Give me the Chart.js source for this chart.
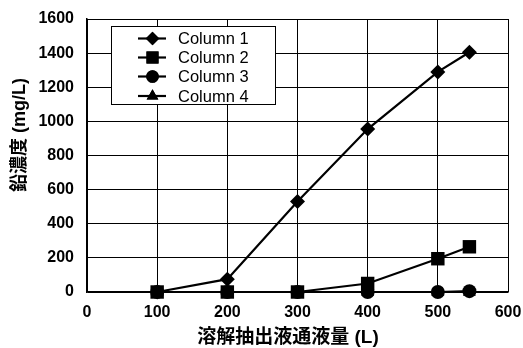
<!DOCTYPE html>
<html>
<head>
<meta charset="utf-8">
<script src="https://cdn.jsdelivr.net/npm/chart.js@4/dist/chart.umd.min.js"></script>
<style>
  html, body { margin: 0; padding: 0; background: #fff; }
  #wrap { width: 523px; height: 348px; position: relative; }
</style>
</head>
<body>
<div id="wrap"><canvas id="c" width="523" height="348"></canvas></div>
<script>
// ---- data ----
const seriesNames = ["Column 1", "Column 2", "Column 3", "Column 4"];
const volumes = [100, 200, 300, 400, 500, 545];
const column1 = [0, 75, 530, 955, 1290, 1405];
const column2 = [0, 0, 0, 50, 195, 265];
const column3 = [0, 0, 0, 0, 0, 5];
const column4 = [0, 0, 0, 0, 0, 0];
const xTicks = [0, 100, 200, 300, 400, 500, 600];
const yTicks = [0, 200, 400, 600, 800, 1000, 1200, 1400, 1600];
const xTitle = "溶解抽出液通液量 (L)";
const yTitle = "鉛濃度 (mg/L)";

const FONT = "'Liberation Sans', Arial, 'Noto Sans CJK JP', sans-serif";

const styles = [
  { pointStyle: 'rectRot', radius: 7.5 },
  { pointStyle: 'rect', radius: 9.5 },
  { pointStyle: 'circle', radius: 7 },
  { pointStyle: 'triangle', radius: 7.5 }
];
const allValues = [column1, column2, column3, column4];

const datasets = allValues.map((vals, i) => ({
  label: seriesNames[i],
  data: volumes.map((v, j) => ({ x: v, y: vals[j] })),
  showLine: true,
  clip: false,
  borderColor: '#000',
  backgroundColor: '#000',
  borderWidth: 2.2,
  pointStyle: styles[i].pointStyle,
  pointRadius: styles[i].radius,
  pointHoverRadius: styles[i].radius,
  pointBackgroundColor: '#000',
  pointBorderColor: '#000',
  pointBorderWidth: 0,
  tension: 0
}));

const customLegend = {
  id: 'customLegend',
  afterDraw(chart) {
    const ctx = chart.ctx;
    ctx.save();
    const bx = 111, by = 26, bw = 164, bh = 78;
    ctx.fillStyle = '#fff';
    ctx.fillRect(bx, by, bw, bh);
    ctx.strokeStyle = '#000';
    ctx.lineWidth = 1;
    ctx.strokeRect(bx + 0.5, by + 0.5, bw, bh);
    const rows = [38.5, 57.5, 76.5, 96];
    chart.data.datasets.forEach((ds, i) => {
      const y = rows[i];
      ctx.strokeStyle = '#000';
      ctx.lineWidth = 2.2;
      ctx.beginPath();
      ctx.moveTo(138, y);
      ctx.lineTo(166, y);
      ctx.stroke();
      ctx.fillStyle = '#000';
      Chart.helpers.drawPoint(ctx, {
        pointStyle: ds.pointStyle, radius: ds.pointRadius * 0.9, rotation: 0, borderWidth: 0
      }, 152.5, y);
      ctx.fill();
      ctx.fillStyle = '#000';
      ctx.font = "16.5px " + FONT;
      ctx.textAlign = 'left';
      ctx.textBaseline = 'middle';
      ctx.fillText(ds.label, 178, y + 1);
    });
    ctx.restore();
  }
};

const axisTitles = {
  id: 'axisTitles',
  afterDraw(chart) {
    const ctx = chart.ctx;
    ctx.save();
    ctx.fillStyle = '#000';
    ctx.textAlign = 'center';
    ctx.textBaseline = 'middle';
    ctx.font = "bold 19px " + FONT;
    ctx.fillText(xTitle, 288, 338);
    ctx.translate(20, 135);
    ctx.rotate(-Math.PI / 2);
    ctx.font = "bold 18px " + FONT;
    ctx.fillText(yTitle, 0, 0);
    ctx.restore();
  }
};

new Chart(document.getElementById('c'), {
  type: 'scatter',
  data: { datasets },
  options: {
    responsive: false,
    animation: false,
    devicePixelRatio: 1,
    layout: { padding: { left: 0, right: 15, top: 19, bottom: 0 } },
    plugins: {
      legend: { display: false },
      tooltip: { enabled: false }
    },
    scales: {
      x: {
        type: 'linear',
        min: 0, max: 600,
        afterBuildTicks(scale) { scale.ticks = xTicks.map(v => ({ value: v })); },
        afterFit(scale) { scale.height = 56; scale.paddingLeft = 0; scale.paddingRight = 0; },
        grid: { color: '#000', lineWidth: 1, drawTicks: false },
        border: { color: '#000', width: 1.5 },
        ticks: {
          padding: 11,
          color: '#000',
          callback: v => String(v),
          font: { family: FONT, size: 16, weight: 'bold' }
        }
      },
      y: {
        type: 'linear',
        min: 0, max: 1600,
        afterBuildTicks(scale) { scale.ticks = yTicks.map(v => ({ value: v })); },
        afterFit(scale) { scale.width = 87; scale.paddingTop = 0; scale.paddingBottom = 0; },
        grid: { color: '#000', lineWidth: 1, drawTicks: false },
        border: { color: '#000', width: 1.5 },
        ticks: {
          padding: 13,
          color: '#000',
          callback: v => String(v),
          font: { family: FONT, size: 16, weight: 'bold' }
        }
      }
    }
  },
  plugins: [customLegend, axisTitles]
});
</script>
</body>
</html>
